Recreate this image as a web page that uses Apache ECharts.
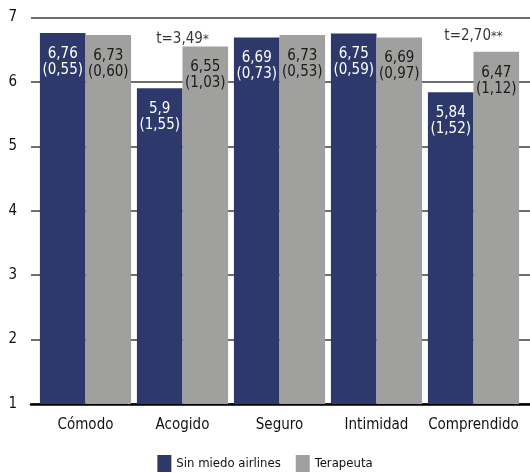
<!DOCTYPE html>
<html>
<head>
<meta charset="utf-8">
<script src="https://cdn.jsdelivr.net/npm/echarts@6/dist/echarts.min.js"></script>
<style>
  html, body { margin: 0; padding: 0; background: #fff; }
  #chart { width: 530px; height: 473px; }
</style>
</head>
<body>
<div id="chart"></div>
<script>
// Categories and group means / standard deviations
const categories = ['Cómodo', 'Acogido', 'Seguro', 'Intimidad', 'Comprendido'];
const seriesNames = ['Sin miedo airlines', 'Terapeuta'];
const meansAirlines = [6.76, 5.9, 6.69, 6.75, 5.84];
const sdAirlines = [0.55, 1.55, 0.73, 0.59, 1.52];
const meansTerapeuta = [6.73, 6.55, 6.73, 6.69, 6.47];
const sdTerapeuta = [0.60, 1.03, 0.53, 0.97, 1.12];
const yTicks = [1, 2, 3, 4, 5, 6, 7];

// t-test annotations: category index, height on the scale, text, stars
const testCats = [1, 4];
const testHeights = [6.66, 6.71];
const testTexts = ['t=3,49', 't=2,70'];
const testStars = ['*', '**'];

const FONT = "'Liberation Sans Narrow', 'DejaVu Sans Condensed', 'Roboto', sans-serif";
const BLUE = '#2c396a';
const GREY = '#a0a09f';

const fmtMean = v => String(v).replace('.', ',');
const fmtSd = v => '(' + v.toFixed(2).replace('.', ',') + ')';

const chart = echarts.init(document.getElementById('chart'));

function barLabel(sds, color) {
  return {
    show: true,
    position: 'insideTop',
    distance: 13,
    color: color,
    fontFamily: FONT,
    fontSize: 15,
    lineHeight: 16,
    formatter: p => fmtMean(p.value) + '\n' + fmtSd(sds[p.dataIndex])
  };
}

chart.setOption({
  animation: false,
  backgroundColor: '#fff',
  textStyle: { fontFamily: FONT },
  grid: [
    // full-width grid carrying the horizontal rules and tick labels
    { left: 31, right: 0, top: 17.5, bottom: 69 },
    // inner grid carrying the bars
    { left: 37, right: 8, top: 17.5, bottom: 69 }
  ],
  xAxis: [
    {
      gridIndex: 0, type: 'value', min: 0, max: 1,
      axisLine: { show: true, onZero: false, lineStyle: { color: '#000', width: 2.5 } },
      axisTick: { show: false }, axisLabel: { show: false }, splitLine: { show: false }
    },
    {
      gridIndex: 1, type: 'category', data: categories,
      axisLine: { show: false }, axisTick: { show: false },
      axisLabel: { interval: 0, color: '#111', fontSize: 15, fontFamily: FONT, margin: 14 }
    }
  ],
  yAxis: [
    {
      gridIndex: 0, type: 'value', min: 1, max: 7, interval: 1,
      axisLine: { show: false }, axisTick: { show: false },
      axisLabel: {
        color: '#111', fontSize: 15, fontFamily: FONT, margin: 14,
        formatter: v => yTicks.includes(v) ? String(v) : ''
      },
      splitLine: { show: true, lineStyle: { color: '#6e6e6e', width: 2.2 } }
    },
    {
      gridIndex: 1, type: 'value', min: 1, max: 7, interval: 1,
      axisLine: { show: false }, axisTick: { show: false },
      axisLabel: { show: false }, splitLine: { show: false }
    }
  ],
  legend: {
    data: seriesNames,
    bottom: -4,
    left: 'center',
    itemWidth: 14,
    itemHeight: 17,
    itemGap: 15,
    icon: 'rect',
    textStyle: { color: '#111', fontSize: 13, fontFamily: FONT }
  },
  series: [
    {
      name: seriesNames[0], type: 'bar', xAxisIndex: 1, yAxisIndex: 1,
      data: meansAirlines, barGap: '0%', barCategoryGap: '6%',
      itemStyle: { color: BLUE },
      label: barLabel(sdAirlines, '#ffffff')
    },
    {
      name: seriesNames[1], type: 'bar', xAxisIndex: 1, yAxisIndex: 1,
      data: meansTerapeuta, barGap: '0%', barCategoryGap: '6%',
      itemStyle: { color: GREY },
      label: barLabel(sdTerapeuta, '#1a1a1a')
    },
    {
      name: 'tests', type: 'scatter', xAxisIndex: 1, yAxisIndex: 1,
      symbolSize: 0, silent: true,
      data: testCats.map((c, i) => [c, testHeights[i]]),
      label: {
        show: true, position: 'inside',
        formatter: p => '{t|' + testTexts[p.dataIndex] + '}{s|' + testStars[p.dataIndex] + '}',
        rich: {
          t: { fontSize: 15, color: '#000', fontFamily: FONT },
          s: { fontSize: 13, color: '#000', fontFamily: FONT }
        }
      }
    }
  ]
});
</script>
</body>
</html>
